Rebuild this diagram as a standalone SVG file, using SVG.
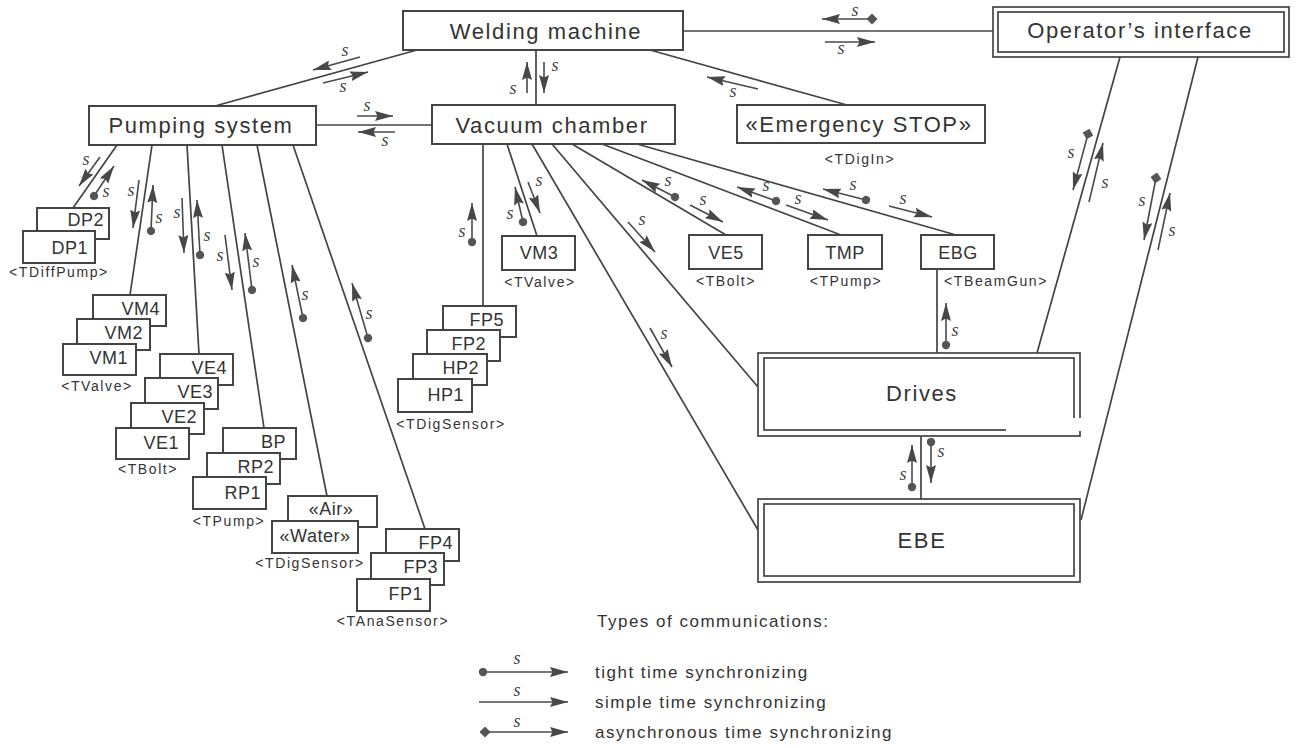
<svg xmlns="http://www.w3.org/2000/svg" width="1298" height="748" viewBox="0 0 1298 748">
<style>
.box{fill:#fff;stroke:#444;stroke-width:2}
.dbl{fill:none;stroke:#444;stroke-width:1.7}
.big{font-family:"Liberation Sans",Arial,sans-serif;font-size:22px;letter-spacing:1.6px;fill:#333;text-anchor:middle}
.sm{font-family:"Liberation Sans",Arial,sans-serif;font-size:18px;letter-spacing:0.5px;fill:#333;text-anchor:end}
.smc{font-family:"Liberation Sans",Arial,sans-serif;font-size:18px;letter-spacing:0.5px;fill:#333;text-anchor:middle}
.ty{font-family:"Liberation Sans",Arial,sans-serif;font-size:14px;letter-spacing:1.6px;fill:#333;text-anchor:middle}
.lg{font-family:"Liberation Sans",Arial,sans-serif;font-size:17px;letter-spacing:1.5px;fill:#333}
.s{font-family:"Liberation Serif","Times New Roman",serif;font-style:italic;font-size:18px;fill:#444;text-anchor:middle}
.c{stroke:#444;stroke-width:1.7;fill:none}
.ar{stroke:#4a4a4a;stroke-width:1.6;fill:none;marker-end:url(#ah)}
.t{marker-start:url(#dot)}
.d{marker-start:url(#dia)}
</style>
<defs>
<marker id="ah" viewBox="0 0 18 10" refX="18" refY="5" markerWidth="18" markerHeight="10" markerUnits="userSpaceOnUse" orient="auto"><path d="M0,0 L18,5 L0,10 L2.5,5 z" fill="#474747"/></marker>
<marker id="dot" viewBox="0 0 9 9" refX="4.5" refY="4.5" markerWidth="9" markerHeight="9" markerUnits="userSpaceOnUse" orient="auto"><circle cx="4.5" cy="4.5" r="4.2" fill="#555"/></marker>
<marker id="dia" viewBox="0 0 11 11" refX="5.5" refY="5.5" markerWidth="11" markerHeight="11" markerUnits="userSpaceOnUse" orient="auto"><path d="M5.5,0 L11,5.5 L5.5,11 L0,5.5 z" fill="#555"/></marker>
</defs>
<rect width="1298" height="748" fill="#fff"/>

<g id="connectors">
<line class="c" x1="417" y1="50" x2="215" y2="106"/>
<line class="c" x1="683" y1="31" x2="993" y2="31"/>
<line class="c" x1="536" y1="50" x2="536" y2="105"/>
<line class="c" x1="650" y1="50" x2="847" y2="105"/>
<line class="c" x1="316" y1="125" x2="432" y2="125"/>
<line class="c" x1="117" y1="145" x2="73" y2="208"/>
<line class="c" x1="152" y1="145" x2="130" y2="295"/>
<line class="c" x1="187" y1="145" x2="199" y2="354"/>
<line class="c" x1="222" y1="145" x2="264" y2="428"/>
<line class="c" x1="257" y1="145" x2="327" y2="496"/>
<line class="c" x1="293" y1="145" x2="425" y2="529"/>
<line class="c" x1="483" y1="144" x2="483" y2="306"/>
<line class="c" x1="507" y1="144" x2="537" y2="236"/>
<line class="c" x1="532" y1="144" x2="758" y2="530"/>
<line class="c" x1="552" y1="144" x2="758" y2="387"/>
<line class="c" x1="572" y1="144" x2="726" y2="235"/>
<line class="c" x1="602" y1="144" x2="841" y2="235"/>
<line class="c" x1="637" y1="144" x2="956" y2="235"/>
<line class="c" x1="937" y1="269" x2="937" y2="353"/>
<line class="c" x1="921" y1="436" x2="921" y2="499"/>
<line class="c" x1="1120" y1="57" x2="1037" y2="353"/>
<line class="c" x1="1198" y1="57" x2="1081" y2="520"/>

<line class="ar" x1="360" y1="57" x2="313" y2="70"/><text class="s" x="345" y="56">s</text>
<line class="ar" x1="323" y1="83" x2="368" y2="72"/><text class="s" x="343" y="92">s</text>
<line class="ar" x1="357" y1="116" x2="393" y2="116"/><text class="s" x="367" y="111">s</text>
<line class="ar" x1="395" y1="132" x2="358" y2="132"/><text class="s" x="385" y="146">s</text>
<line class="ar" x1="527" y1="93" x2="527" y2="62"/><text class="s" x="513" y="94">s</text>
<line class="ar" x1="544" y1="62" x2="544" y2="93"/><text class="s" x="555" y="71">s</text>
<line class="ar" x1="758" y1="89" x2="707" y2="77"/><text class="s" x="733" y="97">s</text>
<line class="ar d" x1="872" y1="19" x2="822" y2="19"/><text class="s" x="855" y="16">s</text>
<line class="ar" x1="825" y1="42" x2="875" y2="42"/><text class="s" x="841" y="54">s</text>

<line class="ar" x1="100" y1="157" x2="79" y2="186"/><text class="s" x="86" y="165">s</text>
<line class="ar t" x1="94" y1="196" x2="114" y2="166"/><text class="s" x="106" y="197">s</text>
<line class="ar" x1="139" y1="180" x2="133" y2="228"/><text class="s" x="131" y="196">s</text>
<line class="ar t" x1="151" y1="231" x2="153" y2="185"/><text class="s" x="159" y="223">s</text>
<line class="ar" x1="182" y1="198" x2="184" y2="253"/><text class="s" x="177" y="218">s</text>
<line class="ar t" x1="200" y1="255" x2="197" y2="200"/><text class="s" x="207" y="241">s</text>
<line class="ar" x1="225" y1="235" x2="232" y2="290"/><text class="s" x="220" y="261">s</text>
<line class="ar t" x1="252" y1="290" x2="245" y2="233"/><text class="s" x="256" y="267">s</text>
<line class="ar t" x1="303" y1="318" x2="292" y2="265"/><text class="s" x="305" y="300">s</text>
<line class="ar t" x1="368" y1="338" x2="352" y2="283"/><text class="s" x="369" y="319">s</text>

<line class="ar t" x1="472" y1="242" x2="472" y2="203"/><text class="s" x="462" y="237">s</text>
<line class="ar t" x1="523" y1="222" x2="515" y2="187"/><text class="s" x="510" y="219">s</text>
<line class="ar" x1="528" y1="182" x2="540" y2="213"/><text class="s" x="539" y="186">s</text>
<line class="ar" x1="650" y1="328" x2="672" y2="367"/><text class="s" x="664" y="339">s</text>
<line class="ar" x1="628" y1="222" x2="655" y2="252"/><text class="s" x="642" y="225">s</text>
<line class="ar t" x1="675" y1="197" x2="642" y2="180"/><text class="s" x="668" y="186">s</text>
<line class="ar" x1="690" y1="205" x2="723" y2="222"/><text class="s" x="703" y="205">s</text>
<line class="ar t" x1="776" y1="201" x2="737" y2="187"/><text class="s" x="766" y="191">s</text>
<line class="ar" x1="786" y1="205" x2="828" y2="220"/><text class="s" x="798" y="204">s</text>
<line class="ar t" x1="866" y1="200" x2="823" y2="189"/><text class="s" x="853" y="190">s</text>
<line class="ar" x1="889" y1="206" x2="932" y2="217"/><text class="s" x="903" y="204">s</text>

<line class="ar t" x1="946" y1="345" x2="946" y2="303"/><text class="s" x="955" y="336">s</text>
<line class="ar t" x1="912" y1="487" x2="912" y2="445"/><text class="s" x="903" y="480">s</text>
<line class="ar t" x1="931" y1="442" x2="931" y2="483"/><text class="s" x="941" y="457">s</text>

<line class="ar d" x1="1088" y1="134" x2="1073" y2="190"/><text class="s" x="1071" y="158">s</text>
<line class="ar" x1="1089" y1="202" x2="1103" y2="143"/><text class="s" x="1105" y="188">s</text>
<line class="ar d" x1="1156" y1="178" x2="1144" y2="240"/><text class="s" x="1142" y="206">s</text>
<line class="ar" x1="1158" y1="250" x2="1170" y2="193"/><text class="s" x="1172" y="236">s</text>
</g>

<g id="welding-machine"><rect class="box" x="403" y="11" width="280" height="39"/><text class="big" x="546" y="39">Welding machine</text></g>
<g id="operators-interface"><rect class="dbl" x="993" y="7" width="296" height="50"/><rect class="dbl" x="998" y="12" width="286" height="40"/><text class="big" x="1140" y="38">Operator’s interface</text></g>
<g id="pumping-system"><rect class="box" x="89" y="106" width="227" height="39"/><text class="big" x="201" y="133">Pumping system</text></g>
<g id="vacuum-chamber"><rect class="box" x="432" y="105" width="243" height="39"/><text class="big" x="552" y="133">Vacuum chamber</text></g>
<g id="emergency-stop"><rect class="box" x="737" y="105" width="248" height="38"/><text class="big" x="859" y="132">«Emergency STOP»</text><text class="ty" x="860" y="164">&lt;TDigIn&gt;</text></g>

<g id="dp"><rect class="box" x="37" y="208" width="72" height="31"/><text class="sm" x="104" y="226">DP2</text><rect class="box" x="23" y="231" width="72" height="32"/><text class="sm" x="88" y="254">DP1</text><text class="ty" x="59" y="277">&lt;TDiffPump&gt;</text></g>
<g id="vm"><rect class="box" x="93" y="295" width="73" height="31"/><text class="sm" x="160" y="315">VM4</text><rect class="box" x="77" y="319" width="73" height="31"/><text class="sm" x="143" y="339">VM2</text><rect class="box" x="63" y="344" width="73" height="31"/><text class="sm" x="128" y="364">VM1</text><text class="ty" x="97" y="391">&lt;TValve&gt;</text></g>
<g id="ve"><rect class="box" x="160" y="354" width="73" height="31"/><text class="sm" x="227" y="374">VE4</text><rect class="box" x="145" y="378" width="73" height="31"/><text class="sm" x="213" y="398">VE3</text><rect class="box" x="131" y="403" width="73" height="31"/><text class="sm" x="197" y="423">VE2</text><rect class="box" x="116" y="428" width="73" height="31"/><text class="sm" x="179" y="449">VE1</text><text class="ty" x="148" y="474">&lt;TBolt&gt;</text></g>
<g id="pumps"><rect class="box" x="223" y="428" width="73" height="31"/><text class="sm" x="286" y="448">BP</text><rect class="box" x="207" y="453" width="73" height="31"/><text class="sm" x="274" y="473">RP2</text><rect class="box" x="193" y="477" width="73" height="32"/><text class="sm" x="261" y="499">RP1</text><text class="ty" x="229" y="526">&lt;TPump&gt;</text></g>
<g id="sensors"><rect class="box" x="288" y="496" width="89" height="31"/><text class="smc" x="331" y="515">«Air»</text><rect class="box" x="272" y="521" width="86" height="32"/><text class="smc" x="315" y="542">«Water»</text><text class="ty" x="310" y="568">&lt;TDigSensor&gt;</text></g>
<g id="fp"><rect class="box" x="386" y="529" width="73" height="32"/><text class="sm" x="453" y="549">FP4</text><rect class="box" x="371" y="553" width="73" height="32"/><text class="sm" x="438" y="573">FP3</text><rect class="box" x="357" y="579" width="73" height="32"/><text class="sm" x="423" y="600">FP1</text><text class="ty" x="393" y="626">&lt;TAnaSensor&gt;</text></g>
<g id="hp"><rect class="box" x="443" y="306" width="73" height="31"/><text class="sm" x="504" y="326">FP5</text><rect class="box" x="427" y="330" width="73" height="31"/><text class="sm" x="486" y="350">FP2</text><rect class="box" x="413" y="354" width="74" height="31"/><text class="sm" x="479" y="374">HP2</text><rect class="box" x="398" y="379" width="74" height="33"/><text class="sm" x="464" y="401">HP1</text><text class="ty" x="451" y="429">&lt;TDigSensor&gt;</text></g>
<g id="vm3"><rect class="box" x="502" y="236" width="73" height="34"/><text class="smc" x="539" y="259">VM3</text><text class="ty" x="540" y="287">&lt;TValve&gt;</text></g>
<g id="ve5"><rect class="box" x="689" y="235" width="73" height="34"/><text class="smc" x="726" y="259">VE5</text><text class="ty" x="726" y="286">&lt;TBolt&gt;</text></g>
<g id="tmp"><rect class="box" x="808" y="235" width="74" height="34"/><text class="smc" x="845" y="259">TMP</text><text class="ty" x="846" y="286">&lt;TPump&gt;</text></g>
<g id="ebg"><rect class="box" x="921" y="235" width="73" height="34"/><text class="smc" x="958" y="259">EBG</text><text class="ty" x="996" y="286">&lt;TBeamGun&gt;</text></g>
<g id="drives"><rect x="758" y="353" width="322" height="83" fill="#fff"/><rect class="dbl" x="758" y="353" width="322" height="83"/><rect class="dbl" x="764" y="358" width="310" height="72"/><rect x="1006" y="418" width="80" height="13" fill="#fff"/><text class="big" x="922" y="401">Drives</text></g>
<g id="ebe"><rect x="758" y="499" width="322" height="83" fill="#fff"/><rect class="dbl" x="758" y="499" width="322" height="83"/><rect class="dbl" x="764" y="504" width="310" height="72"/><text class="big" x="922" y="548">EBE</text></g>

<g id="legend">
<text class="lg" x="597" y="627">Types of communications:</text>
<line class="ar t" x1="483" y1="672" x2="568" y2="672"/><text class="s" x="517" y="664">s</text><text class="lg" x="595" y="678">tight time synchronizing</text>
<line class="ar" x1="479" y1="702" x2="568" y2="702"/><text class="s" x="517" y="696">s</text><text class="lg" x="595" y="708">simple time synchronizing</text>
<line class="ar d" x1="485" y1="732" x2="568" y2="732"/><text class="s" x="517" y="727">s</text><text class="lg" x="595" y="738">asynchronous time synchronizing</text>
</g>
</svg>
